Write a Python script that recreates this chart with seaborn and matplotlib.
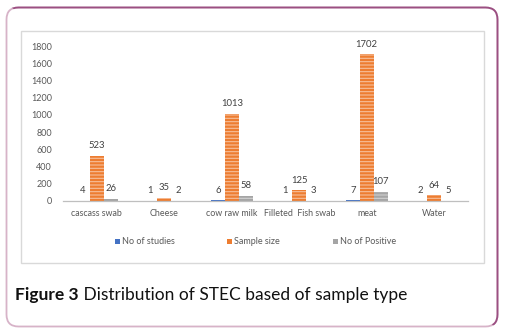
import matplotlib
matplotlib.use("Agg")
import matplotlib.pyplot as plt
from matplotlib.patches import FancyBboxPatch, Rectangle, Polygon
from matplotlib.transforms import IdentityTransform
import seaborn as sns
import pandas as pd

categories = ["cascass swab", "Cheese", "cow raw milk", "Filleted  Fish swab", "meat", "Water"]
no_of_studies = [4, 1, 6, 1, 7, 2]
sample_size = [523, 35, 1013, 125, 1702, 64]
no_of_positive = [26, 2, 58, 3, 107, 5]
series_names = ["No of studies", "Sample size", "No of Positive"]
y_ticks = [0, 200, 400, 600, 800, 1000, 1200, 1400, 1600, 1800]
caption_bold = "Figure 3"
caption_text = " Distribution of STEC based of sample type"

colors = ["#4472C4", "#ED7D31", "#A5A5A5"]
stripe_colors = ["#8faadc", "#f6bf9a", "#d0d0d0"]

rows = []
for name, vals in zip(series_names, [no_of_studies, sample_size, no_of_positive]):
    for cat, v in zip(categories, vals):
        rows.append({"category": cat, "series": name, "value": v})
df = pd.DataFrame(rows)

sns.set_theme(style="white")
plt.rcParams["font.family"] = ["Lato", "DejaVu Sans"]
plt.rcParams["hatch.linewidth"] = 0.8

W, H = 508, 335
fig = plt.figure(figsize=(W / 100, H / 100), dpi=100)
fig.patch.set_facecolor("white")
pix = IdentityTransform()


def fx(px):
    return px / W


def fy(py):
    return 1 - py / H


# outer rounded card border: light on lower-left, darker on upper-right
card_xy = (6.5, H - 326.5)
card_w, card_h = 491, 319
box_light = FancyBboxPatch(card_xy, card_w, card_h, boxstyle="round,pad=0,rounding_size=12",
                           transform=pix, facecolor="none", edgecolor="#d7b3c8", linewidth=1.3)
fig.patches.append(box_light)
box_dark = FancyBboxPatch(card_xy, card_w, card_h, boxstyle="round,pad=0,rounding_size=12",
                          transform=pix, facecolor="none", edgecolor="#9b4f82", linewidth=1.3)
clip = Polygon([(0, H), (W, H), (W, 0)], closed=True, transform=pix)
box_dark.set_clip_path(clip)
fig.patches.append(box_dark)

# chart frame
frame = Rectangle((fx(21), fy(263)), fx(463), fy(31) - fy(263), transform=fig.transFigure,
                  facecolor="white", edgecolor="#d9d9d9", linewidth=1.0, zorder=0)
fig.patches.append(frame)

ax = fig.add_axes([fx(63), fy(201), fx(405), fy(46) - fy(201)])
ax.set_zorder(5)
ax.set_facecolor("none")

sns.barplot(data=df, x="category", y="value", hue="series", order=categories,
            hue_order=series_names, palette=colors, width=0.62, ax=ax,
            legend=False, saturation=1, errorbar=None)

# striped fill: the hatch takes the edge colour, the outline itself is not drawn
for i, cont in enumerate(ax.containers):
    for p in cont.patches:
        p.set_edgecolor(stripe_colors[i])
        p.set_linewidth(0)
        p.set_hatch("-----")
    ax.bar_label(cont, labels=[str(int(v)) for v in cont.datavalues], padding=4,
                 fontsize=6.8, color="#404040")

ax.set_ylim(0, 1800)
ax.set_xlim(-0.5, len(categories) - 0.5)
ax.set_yticks(y_ticks)
ax.set_yticklabels([str(t) for t in y_ticks], fontsize=6.5, color="#595959")
ax.tick_params(axis="x", labelsize=6.4, labelcolor="#595959", length=0, pad=6)
ax.tick_params(axis="y", length=0, pad=8)
ax.set_xlabel("")
ax.set_ylabel("")
for s in ["top", "right", "left"]:
    ax.spines[s].set_visible(False)
ax.spines["bottom"].set_color("#bfbfbf")
ax.spines["bottom"].set_linewidth(0.9)

# legend
legend_items = [(117, series_names[0], colors[0]), (229, series_names[1], colors[1]),
                (335, series_names[2], colors[2])]
for x0, label, c in legend_items:
    fig.patches.append(Rectangle((fx(x0 - 2.5), fy(243.5)), fx(5), fy(238.5) - fy(243.5),
                                 transform=fig.transFigure, facecolor=c, edgecolor="none",
                                 zorder=3))
    fig.text(fx(x0 + 5), fy(241), label, fontsize=6.5, color="#595959",
             va="center", ha="left")

# caption
t1 = fig.text(fx(15), fy(295), caption_bold, fontsize=12.5, fontweight="bold",
              color="#111111", va="center", ha="left")
fig.canvas.draw()
bb = t1.get_window_extent()
fig.text(bb.x1 / W, fy(295), caption_text, fontsize=12.5, color="#111111",
         va="center", ha="left")

fig.savefig("out.png", dpi=100)
